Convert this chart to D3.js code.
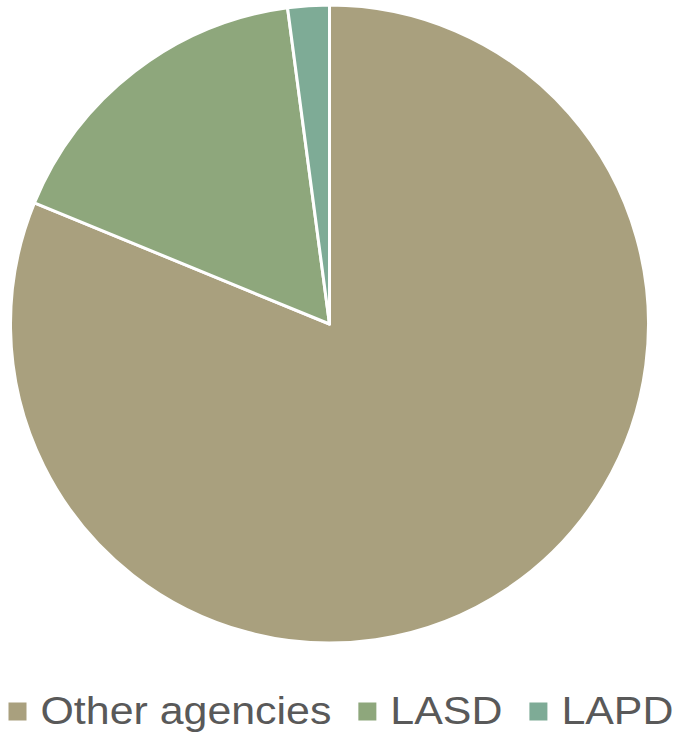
<!DOCTYPE html>
<html>
<head>
<meta charset="utf-8">
<script src="https://cdn.jsdelivr.net/npm/d3@7"></script>
<style>
  body { margin: 0; background: #fff; }
  svg { display: block; }
</style>
</head>
<body>
<svg id="chart" width="676" height="735"></svg>
<script>
var categories = ["Other agencies", "LASD", "LAPD"];
var shares = [81.2, 16.7, 2.1];
var colors = ["#A9A07E", "#8EA77C", "#7EAB96"];

var width = 676, height = 735;
var cx = 329.5, cy = 324, radius = 319;

var svg = d3.select("#chart");

var data = categories.map(function(c, i){ return {name: c, value: shares[i]}; });

var pie = d3.pie()
    .sort(null)
    .value(function(d){ return d.value; });

var arc = d3.arc()
    .innerRadius(0)
    .outerRadius(radius);

var color = d3.scaleOrdinal().domain(categories).range(colors);

svg.append("g")
    .attr("transform", "translate(" + cx + "," + cy + ")")
    .selectAll("path")
    .data(pie(data))
    .enter().append("path")
    .attr("d", arc)
    .attr("fill", function(d){ return color(d.data.name); })
    .attr("stroke", "#fff")
    .attr("stroke-width", 3)
    .attr("stroke-linejoin", "round");

// legend (text is a bit wide in the original, so stretch it)
var legend = svg.append("g").attr("class", "legend");
var box = 18, textGap = 14, itemGap = 27, stretch = 1.1;
var x = 8.5;
categories.forEach(function(c){
    legend.append("rect")
        .attr("x", x)
        .attr("y", 702.5)
        .attr("width", box)
        .attr("height", box)
        .attr("fill", color(c));
    var tx = x + box + textGap;
    var t = legend.append("text")
        .attr("transform", "translate(" + tx + ",724) scale(" + stretch + ",1)")
        .attr("font-family", "'Liberation Sans', Arial, sans-serif")
        .attr("font-size", 39)
        .attr("fill", "#595959")
        .text(c);
    x = tx + t.node().getComputedTextLength() * stretch + itemGap;
});
</script>
</body>
</html>
